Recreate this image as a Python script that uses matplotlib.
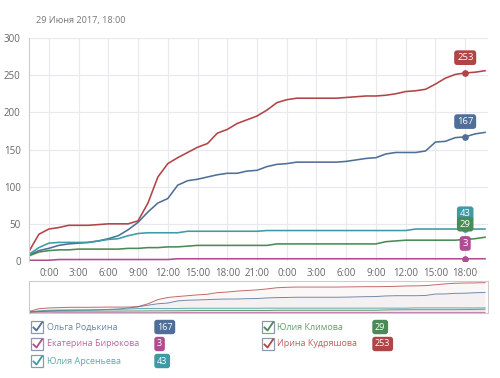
import numpy as np
import matplotlib
matplotlib.use('Agg')
import matplotlib.pyplot as plt
from matplotlib.patches import Rectangle
from matplotlib.lines import Line2D

plt.rcParams['font.family'] = ['Open Sans', 'DejaVu Sans']

# hours counted from 28 June 0:00, one point per hour
hours = np.arange(-2, 45)

names = ['Ольга Родькина', 'Екатерина Бирюкова', 'Юлия Арсеньева',
         'Юлия Климова', 'Ирина Кудряшова']
colors = ['#4f6f98', '#b04c92', '#3e9aa3', '#4a8a56', '#b14444']
finals = [167, 3, 43, 29, 253]

rodkina = [8, 14, 17, 21, 23, 24, 25, 27, 30, 34, 42, 52, 66, 78, 84, 102,
           108, 110, 113, 116, 118, 118, 121, 122, 127, 130, 131, 133, 133,
           133, 133, 133, 134, 136, 138, 139, 144, 146, 146, 146, 148, 160,
           161, 166, 167, 171, 173]
biryukova = [1, 1, 1, 2, 2, 2, 2, 2, 2, 2, 2, 2, 2, 2, 2, 3, 3, 3, 3, 3, 3,
             3, 3, 3, 3, 3, 3, 3, 3, 3, 3, 3, 3, 3, 3, 3, 3, 3, 3, 3, 3, 3,
             3, 3, 3, 3, 3]
arsenyeva = [9, 18, 24, 25, 25, 25, 25, 27, 29, 30, 34, 37, 38, 38, 38, 38,
             40, 40, 40, 40, 40, 40, 40, 40, 41, 41, 41, 41, 41, 41, 41, 41,
             41, 41, 41, 41, 41, 41, 41, 43, 43, 43, 43, 43, 43, 43, 43]
klimova = [7, 12, 14, 15, 15, 16, 16, 16, 16, 16, 17, 17, 18, 18, 19, 19,
           20, 21, 21, 21, 21, 21, 21, 21, 21, 23, 23, 23, 23, 23, 23, 23,
           23, 23, 23, 23, 26, 27, 28, 28, 28, 28, 28, 28, 29, 30, 32]
kudryashova = [13, 36, 43, 45, 48, 48, 48, 49, 50, 50, 50, 54, 78, 113, 131,
               139, 146, 153, 158, 172, 177, 185, 190, 195, 203, 213, 217,
               219, 219, 219, 219, 219, 220, 221, 222, 222, 223, 225, 228,
               229, 231, 238, 246, 251, 253, 254, 256]
series = [rodkina, biryukova, arsenyeva, klimova, kudryashova]

tick_hours = np.arange(0, 43, 3)
tick_labels = [f'{h % 24}:00' for h in tick_hours]
current = 42  # 29 June 18:00

fig = plt.figure(figsize=(5.0, 3.78), dpi=100)
W, H = 500, 378

# main chart
ax = fig.add_axes([29 / W, 1 - 261 / H, 459 / W, 223 / H])
ax.set_xlim(-2, 44.3)
ax.set_ylim(0, 300)
ax.set_yticks([0, 50, 100, 150, 200, 250, 300])
ax.set_xticks(tick_hours)
ax.set_xticklabels(tick_labels)
ax.grid(True, color='#e8e8ee', linewidth=0.8)
ax.set_axisbelow(True)
for side in ['top', 'right', 'bottom']:
    ax.spines[side].set_visible(False)
ax.spines['left'].set_color('#cccccc')
ax.tick_params(length=0, labelsize=7, colors='#666666', pad=5)
ax.tick_params(axis='y', pad=6)

for vals, col in zip(series, colors):
    ax.plot(hours, vals, color=col, linewidth=1.15, solid_joinstyle='round')

# markers and value boxes at the current point
order = [2, 3, 1, 0, 4]
for i in order:
    v = series[i][list(hours).index(current)]
    ax.plot(current, v, 'o', color=colors[i], markersize=3.8, zorder=4)
    ax.annotate(str(finals[i]), xy=(current, v), xytext=(0, 11),
                textcoords='offset points', ha='center', va='center',
                fontsize=6.8, color='white', zorder=5,
                bbox=dict(boxstyle='round,pad=0.3', fc=colors[i], ec='none'))

# navigator
nav = fig.add_axes([29 / W, 1 - 313 / H, 459 / W, 32 / H])
nav.set_xlim(-2, 44.3)
nav.set_ylim(0, 270)
nav.set_xticks([])
nav.set_yticks([])
for s in nav.spines.values():
    s.set_color('#cccccc')
    s.set_linewidth(0.8)
for vals, col in zip(series, colors):
    nav.fill_between(hours, 0, vals, color=col, alpha=0.04, linewidth=0)
    nav.plot(hours, vals, color=col, linewidth=0.7, alpha=0.8)

# title
fig.text(36 / W, 1 - 20 / H, '29 Июня 2017, 18:00', fontsize=6.6,
         color='#777777', va='center')

# legend
rows = [327, 344, 361]
slots = [(0, 0), (0, 1), (0, 2), (1, 0), (1, 1)]
col_x = [(31, 47, 155), (262, 277, 373)]
for i, (c, r) in enumerate(slots):
    bx, tx, badge_x = col_x[c]
    yc = rows[r]
    fig.add_artist(Rectangle((bx / W, 1 - (yc + 6) / H), 12 / W, 12 / H,
                             transform=fig.transFigure, fill=False,
                             ec='#8a9aae', lw=0.9))
    fig.add_artist(Line2D([(bx + 2.5) / W, (bx + 5.5) / W, (bx + 11) / W],
                          [1 - (yc + 0.5) / H, 1 - (yc + 3.5) / H,
                           1 - (yc - 4.5) / H],
                          transform=fig.transFigure, color=colors[i], lw=1.3))
    fig.text(tx / W, 1 - yc / H, names[i], fontsize=6.5, color=colors[i],
             alpha=0.85, va='center')
    fig.text((badge_x + 2) / W, 1 - yc / H, str(finals[i]), fontsize=6.5,
             color='white', ha='left', va='center',
             bbox=dict(boxstyle='round,pad=0.3', fc=colors[i], ec='none'))

fig.savefig('out.png', dpi=100)
